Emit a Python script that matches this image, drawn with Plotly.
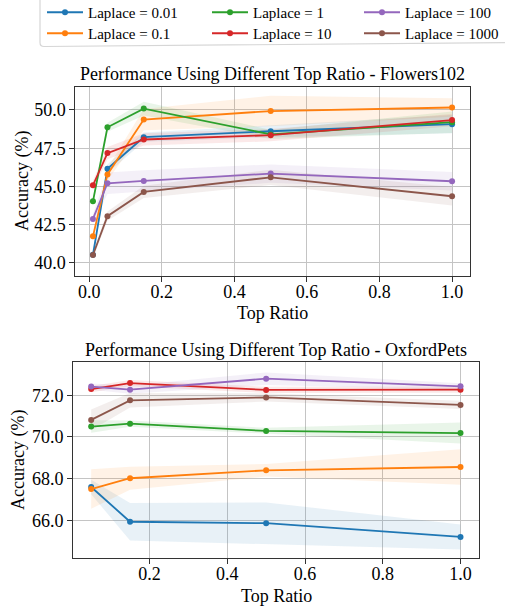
import plotly.graph_objects as go

W, H = 505, 609

labels = ["Laplace = 0.01", "Laplace = 0.1", "Laplace = 1", "Laplace = 10", "Laplace = 100", "Laplace = 1000"]
colors = ["#1f77b4", "#ff7f0e", "#2ca02c", "#d62728", "#9467bd", "#8c564b"]
fills = ["rgba(31,119,180,0.1)", "rgba(255,127,14,0.1)", "rgba(44,160,44,0.1)",
         "rgba(214,39,40,0.1)", "rgba(148,103,189,0.1)", "rgba(140,86,75,0.1)"]

# Flowers102
x_flowers = [0.01, 0.05, 0.15, 0.5, 1.0]
flowers_mean = [
    [40.54, 46.16, 48.22, 48.61, 49.07],
    [41.74, 45.79, 49.37, 49.93, 50.16],
    [44.03, 48.87, 50.09, 48.40, 49.20],
    [45.08, 47.18, 48.07, 48.35, 49.34],
    [42.88, 45.21, 45.36, 45.84, 45.34],
    [40.52, 43.06, 44.64, 45.60, 44.36],
]
flowers_std = [
    [0.2, 0.3, 0.3, 0.4, 0.6],
    [0.3, 0.4, 0.7, 1.0, 0.6],
    [0.2, 0.3, 0.45, 0.3, 0.7],
    [0.3, 0.4, 0.4, 0.4, 0.4],
    [0.3, 0.7, 0.7, 0.6, 0.6],
    [0.2, 0.3, 0.4, 0.5, 0.6],
]

# OxfordPets
x_pets = [0.05, 0.15, 0.5, 1.0]
pets_mean = [
    [67.60, 65.93, 65.86, 65.20],
    [67.50, 68.02, 68.40, 68.56],
    [70.50, 70.64, 70.29, 70.19],
    [72.30, 72.59, 72.26, 72.27],
    [72.42, 72.27, 72.80, 72.43],
    [70.82, 71.76, 71.90, 71.54],
]
pets_std = [
    [0.35, 0.9, 1.0, 0.6],
    [0.95, 0.55, 0.3, 0.85],
    [0.3, 0.15, 0.15, 0.5],
    [0.15, 0.15, 0.15, 0.15],
    [0.15, 0.2, 0.3, 0.15],
    [0.5, 0.35, 0.2, 0.2],
]

flowers_yticks = [40.0, 42.5, 45.0, 47.5, 50.0]
pets_yticks = [66.0, 68.0, 70.0, 72.0]
xticks = [0.0, 0.2, 0.4, 0.6, 0.8, 1.0]

FONT = "Liberation Serif"
fig = go.Figure()

legend_ids = ["legend", "legend2", "legend3", "legend4", "legend5", "legend6"]

def add_panel(xs, means, stds, xa, ya):
    for i in range(len(labels)):
        up = [m + s for m, s in zip(means[i], stds[i])]
        lo = [m - s for m, s in zip(means[i], stds[i])]
        fig.add_trace(go.Scatter(x=xs + xs[::-1], y=up + lo[::-1], fill="toself",
                                 fillcolor=fills[i], line=dict(width=0), mode="lines",
                                 hoverinfo="skip", showlegend=False, xaxis=xa, yaxis=ya))

def add_lines(xs, means, xa, ya, show):
    for i in range(len(labels)):
        fig.add_trace(go.Scatter(x=xs, y=means[i], mode="lines+markers", name=labels[i],
                                 line=dict(color=colors[i], width=1.8),
                                 marker=dict(color=colors[i], size=6),
                                 showlegend=show, legend=legend_ids[i], xaxis=xa, yaxis=ya))

add_panel(x_flowers, flowers_mean, flowers_std, "x", "y")
add_panel(x_pets, pets_mean, pets_std, "x2", "y2")
add_lines(x_flowers, flowers_mean, "x", "y", True)
add_lines(x_pets, pets_mean, "x2", "y2", False)

axis_common = dict(showgrid=True, gridcolor="#c4c4c4", gridwidth=1, showline=True,
                   linecolor="#333333", linewidth=1.2, mirror=True, ticks="outside",
                   ticklen=4.5, tickcolor="#333333", zeroline=False,
                   tickfont=dict(family=FONT, size=18, color="black"))

fig.update_layout(
    width=W, height=H, margin=dict(l=0, r=0, t=0, b=0, autoexpand=False),
    paper_bgcolor="white", plot_bgcolor="white",
    font=dict(family=FONT, color="black"),
    xaxis=dict(domain=[75 / W, 470 / W], range=[-0.0395, 1.0495], tickvals=xticks,
               tickformat=".1f", anchor="y", ticklabelstandoff=-5, **axis_common),
    yaxis=dict(domain=[1 - 276 / H, 1 - 87 / H], range=[39.15, 51.5], tickvals=flowers_yticks,
               tickformat=".1f", anchor="x", **axis_common),
    xaxis2=dict(domain=[72.7 / W, 479 / W], range=[0.0025, 1.0475], tickvals=xticks,
                tickformat=".1f", anchor="y2", ticklabelstandoff=-5, **axis_common),
    yaxis2=dict(domain=[1 - 558 / H, 1 - 362 / H], range=[64.19, 73.6], tickvals=pets_yticks,
                tickformat=".1f", anchor="x2", **axis_common),
    showlegend=True,
)

# legend entries: 3 columns x 2 rows (column-major like the reference)
col_x = [42, 207, 359]
row_top = [-4, 17]
leg_layout = {}
for i, lid in enumerate(legend_ids):
    c, r = i // 2, i % 2
    leg_layout[lid] = dict(orientation="v", yanchor="top", y=1 - row_top[r] / H,
                           xanchor="left", x=col_x[c] / W, itemwidth=36,
                           bgcolor="rgba(0,0,0,0)", borderwidth=0,
                           font=dict(family=FONT, size=15, color="black"))
fig.update_layout(**leg_layout)

# legend frame
fig.add_shape(type="path", xref="paper", yref="paper",
              path="M {x0},{y0} L {x1},{y0} L {x1},{y2} L {x3},{y1} Q {x0},{y1} {x0},{y2} Z".format(
                  x0=40 / W, x1=520 / W, x3=44 / W, y0=1.01, y1=1 - 46.5 / H, y2=1 - 42.5 / H),
              line=dict(color="#d6d6d6", width=1.2), fillcolor="rgba(0,0,0,0)", layer="above")

ann = [
    dict(text="Performance Using Different Top Ratio - Flowers102", x=272.5 / W, y=1 - 74 / H, size=18),
    dict(text="Performance Using Different Top Ratio - OxfordPets", x=276 / W, y=1 - 350 / H, size=18),
    dict(text="Top Ratio", x=272.5 / W, y=1 - 313 / H, size=18),
    dict(text="Top Ratio", x=276 / W, y=1 - 596 / H, size=18),
]
for a in ann:
    fig.add_annotation(text=a["text"], x=a["x"], y=a["y"], xref="paper", yref="paper",
                       showarrow=False, xanchor="center", yanchor="middle",
                       font=dict(family=FONT, size=a["size"], color="black"))
for xpos, ypos in [(23 / W, 1 - 181 / H), (18 / W, 1 - 460 / H)]:
    fig.add_annotation(text="Accuracy (%)", x=xpos, y=ypos, xref="paper", yref="paper",
                       showarrow=False, xanchor="center", yanchor="middle", textangle=-90,
                       font=dict(family=FONT, size=18, color="black"))

fig.write_html("out.html", config={"displayModeBar": False},
               post_script="document.body.style.margin='0';document.body.style.overflow='hidden';")
